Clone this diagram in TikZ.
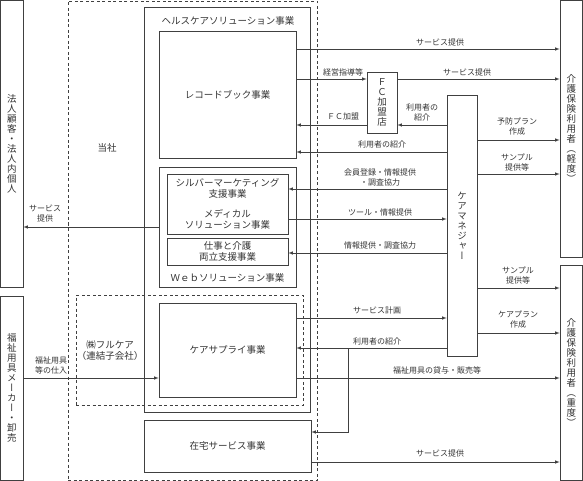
\documentclass[tikz,border=0pt]{standalone}
\usepackage{fontspec}
\setmainfont{Noto Sans CJK JP}
\newfontfamily\tate[RawFeature=+vert]{Noto Sans CJK JP}
\usepackage{tikz}
\usetikzlibrary{arrows}

\tikzset{
	box/.style={draw=black!75, line width=0.6pt, rectangle, inner sep=0pt, align=center, text=black!80, font=\fontsize{9.5}{11}\selectfont},
	vbox/.style={box, font=\tate\fontsize{9.5}{10}\selectfont},
	company/.style={draw=black!75, line width=0.6pt, dash pattern=on 3pt off 2.5pt, rectangle, inner sep=0pt},
	flow/.style={draw=black!75, line width=0.6pt, -latex},
	link/.style={draw=black!75, line width=0.6pt},
	lbl/.style={inner sep=0pt, align=center, text=black!80, font=\fontsize{8}{10}\selectfont},
}

\begin{document}
\begin{tikzpicture}[x=1pt, y=-1pt]
	\useasboundingbox (0,0) rectangle (583,481);
	\node[company, minimum width=249, minimum height=479.5] (tosha) at (192.5,240.75) {};
	\node[company, minimum width=227, minimum height=110] (fullcare) at (189.5,350) {};
	\node[vbox, minimum width=22.5, minimum height=286.5] (hojin) at (11.75,143.75) {法\\人\\顧\\客\\・\\法\\人\\内\\個\\人};
	\node[vbox, minimum width=22.5, minimum height=184.5] (maker) at (11.75,388.25) {福\\祉\\用\\具\\メ\\ー\\カ\\ー\\・\\卸\\売};
	\node[box, minimum width=166, minimum height=405] (health) at (227,209.5) {};
	\node[box, minimum width=137, minimum height=127] (record) at (227.5,94.5) {レコードブック事業};
	\node[box, minimum width=137, minimum height=120] (web) at (227.5,227) {};
	\node[box, minimum width=121, minimum height=60] (silver) at (227.5,204) {シルバーマーケティング\\支援事業\\[9pt]メディカル\\ソリューション事業};
	\node[box, minimum width=121, minimum height=27] (shigoto) at (227.5,251.5) {仕事と介護\\両立支援事業};
	\node[box, minimum width=137, minimum height=94] (supply) at (227.5,350) {ケアサプライ事業};
	\node[box, minimum width=167, minimum height=52] (zaitaku) at (227.5,446) {在宅サービス事業};
	\node[vbox, minimum width=30, minimum height=61] (fc) at (382,102.5) {Ｆ\\Ｃ\\加\\盟\\店};
	\node[vbox, minimum width=30, minimum height=261] (caremgr) at (462,225.5) {ケ\\ア\\マ\\ネ\\ジ\\ャ\\ー};
	\node[vbox, minimum width=22.5, minimum height=256.5] (keido) at (571.25,128.75) {介\\護\\保\\険\\利\\用\\者\\︵\\軽\\度\\︶};
	\node[vbox, minimum width=22.5, minimum height=215.5] (jyudo) at (571.25,372.75) {介\\護\\保\\険\\利\\用\\者\\︵\\重\\度\\︶};
	\node[box, draw=none] (healthlbl) at (228,21) {ヘルスケアソリューション事業};
	\node[box, draw=none] (weblbl) at (227.5,278) {Ｗｅｂソリューション事業};
	\node[box, draw=none] (toshalbl) at (107,148) {当社};
	\node[box, draw=none] (fullcarelbl) at (110,350) {㈱フルケア\\（連結子会社）};

	\draw[flow] (record.east |- 0,49) -- (keido.west |- 0,49);
	\draw[flow] (record.east |- 0,79) -- (fc.west |- 0,79);
	\draw[flow] (fc.east |- 0,79) -- (keido.west |- 0,79);
	\draw[flow] (caremgr.west |- 0,125) -- (fc.east |- 0,125);
	\draw[flow] (fc.west |- 0,125) -- (record.east |- 0,125);
	\draw[flow] (caremgr.west |- 0,152) -- (record.east |- 0,152);
	\draw[flow] (caremgr.west |- 0,189) -- (silver.east |- 0,189);
	\draw[flow] (silver.east |- 0,219) -- (caremgr.west |- 0,219);
	\draw[flow] (caremgr.west |- 0,253) -- (shigoto.east |- 0,253);
	\draw[flow] (web.west |- 0,227) -- (hojin.east |- 0,227);
	\foreach \y in {140,174}
		\draw[flow] (caremgr.east |- 0,\y) -- (keido.west |- 0,\y);
	\foreach \y in {288,333}
		\draw[flow] (caremgr.east |- 0,\y) -- (jyudo.west |- 0,\y);
	\draw[flow] (supply.east |- 0,318) -- (caremgr.west |- 0,318);
	\draw[flow] (caremgr.west |- 0,348) -- (supply.east |- 0,348);
	\coordinate (split) at (348,348);
	\draw[flow] (split) -- (split |- 0,432) -- (zaitaku.east |- 0,432);
	\draw[flow] (supply.east |- 0,378) -- (jyudo.west |- 0,378);
	\draw[flow] (maker.east |- 0,378) -- (supply.west |- 0,378);
	\draw[flow] (zaitaku.east |- 0,462) -- (jyudo.west |- 0,462);

	\node[lbl] (l1) at (440,42) {サービス提供};
	\node[lbl] (l2) at (343,72) {経営指導等};
	\node[lbl] (l3) at (467,72) {サービス提供};
	\node[lbl] (l4) at (422,112) {利用者の\\紹介};
	\node[lbl] (l5) at (343,117) {ＦＣ加盟};
	\node[lbl] (l6) at (382,144) {利用者の紹介};
	\node[lbl] (l7) at (517,126) {予防プラン\\作成};
	\node[lbl] (l8) at (517,162) {サンプル\\提供等};
	\node[lbl] (l9) at (380,177) {会員登録・情報提供\\・調査協力};
	\node[lbl] (l10) at (380,212) {ツール・情報提供};
	\node[lbl] (l11) at (380,245) {情報提供・調査協力};
	\node[lbl] (l12) at (45,214) {サービス\\提供};
	\node[lbl] (l13) at (518,275) {サンプル\\提供等};
	\node[lbl] (l14) at (518,320) {ケアプラン\\作成};
	\node[lbl] (l15) at (377,310) {サービス計画};
	\node[lbl] (l16) at (377,341) {利用者の紹介};
	\node[lbl] (l17) at (437,370) {福祉用具の貸与・販売等};
	\node[lbl] (l18) at (51,365) {福祉用具\\等の仕入};
	\node[lbl] (l19) at (440,453) {サービス提供};
\end{tikzpicture}
\end{document}
